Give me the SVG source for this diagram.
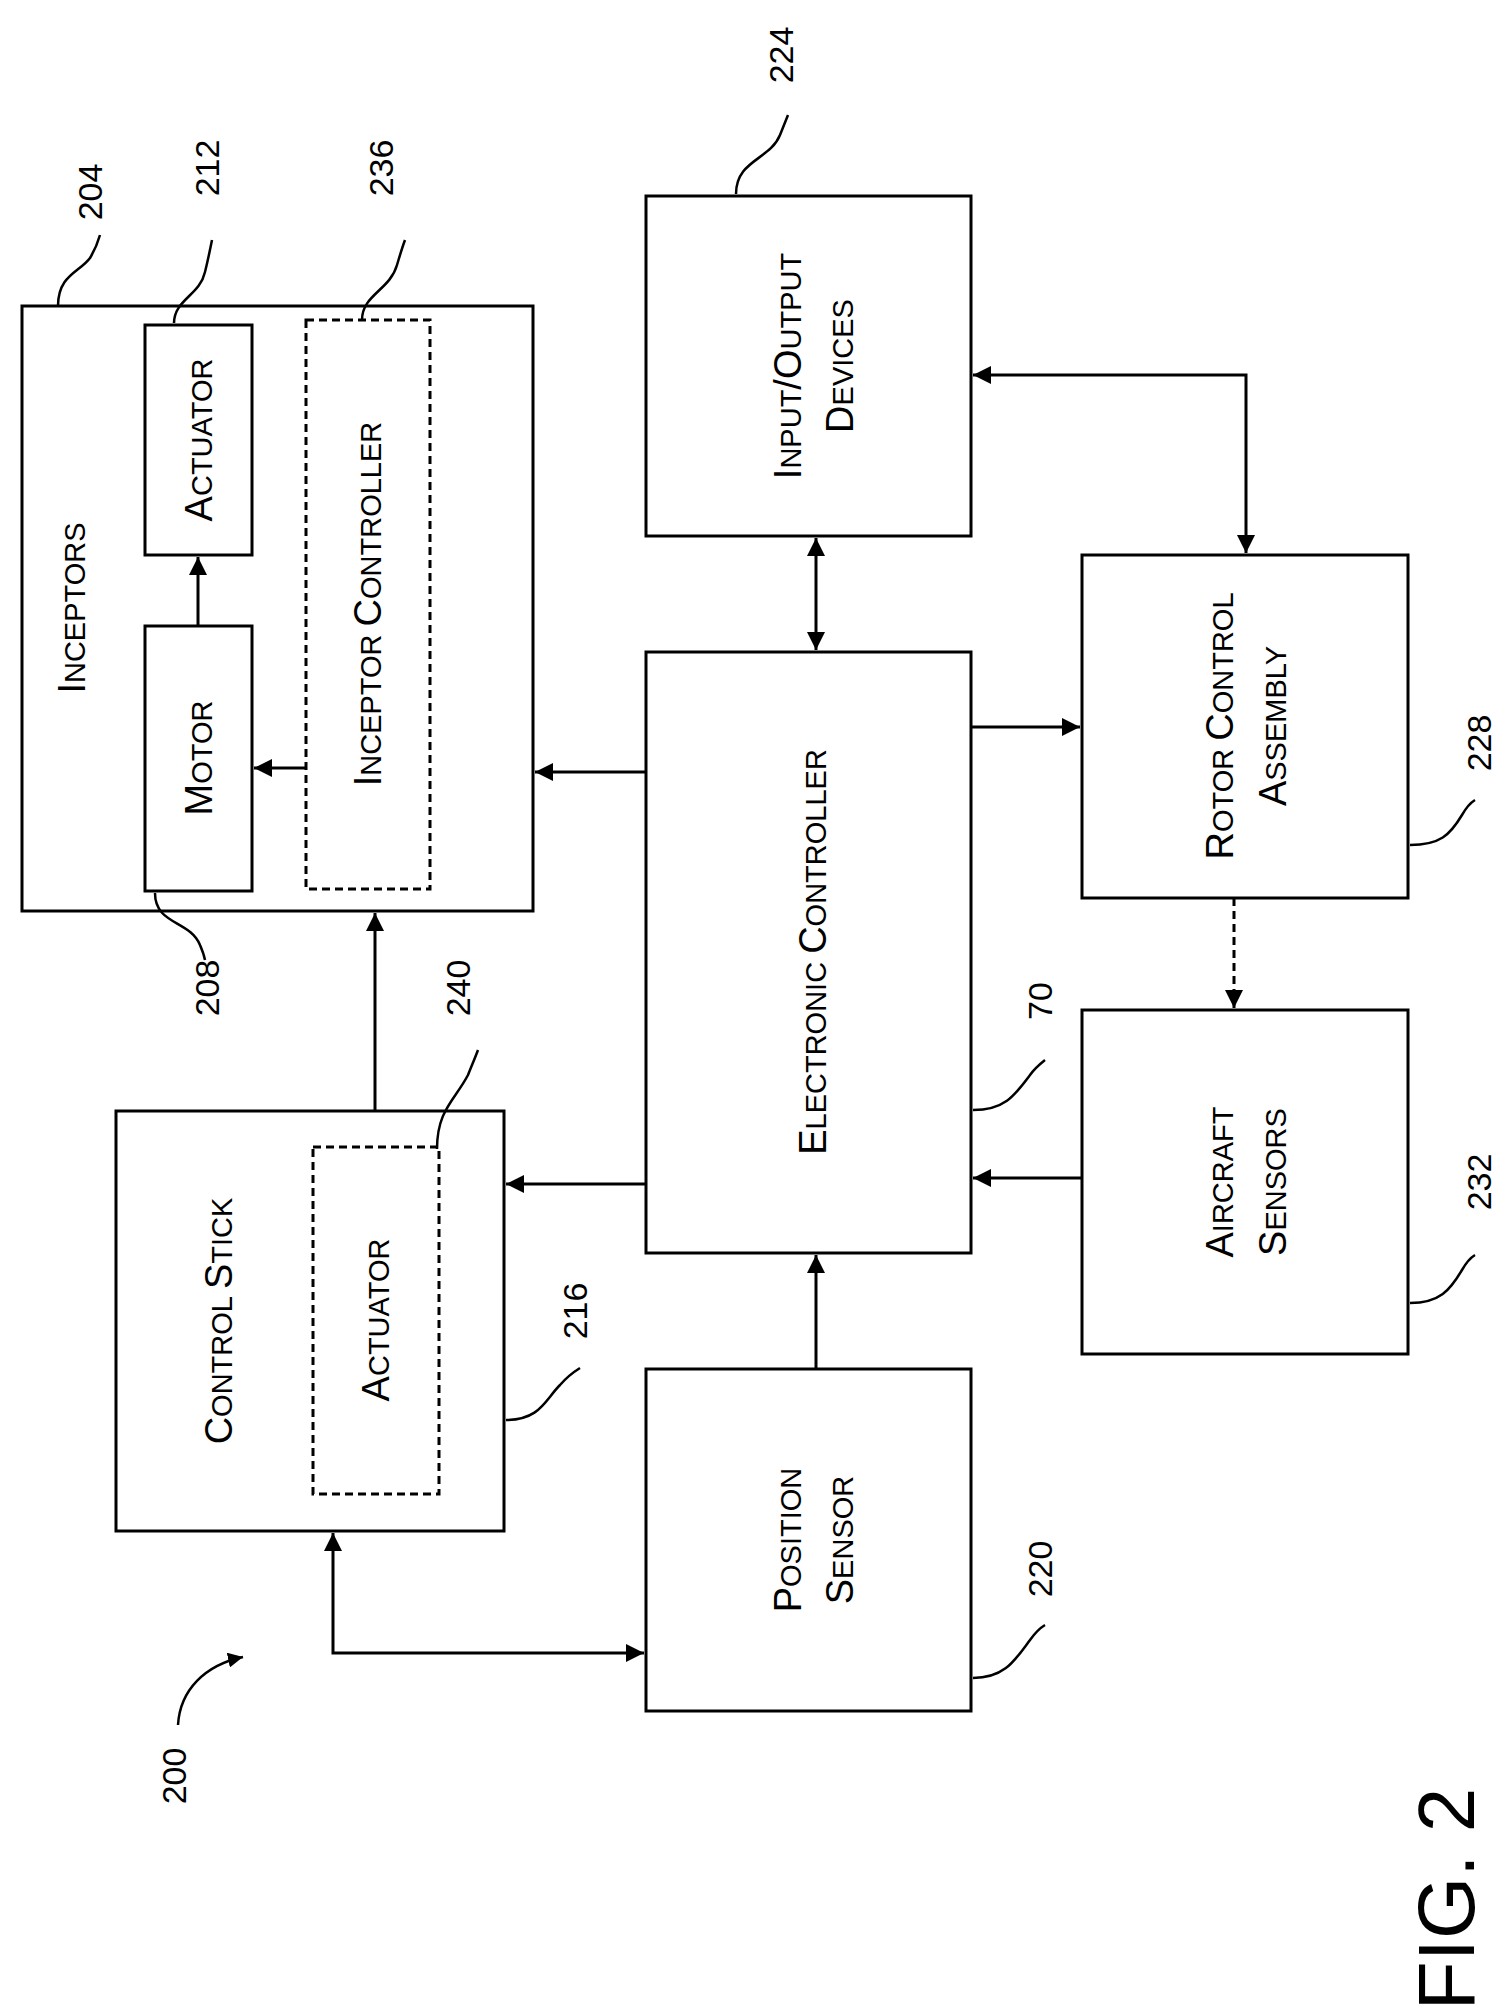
<svg xmlns="http://www.w3.org/2000/svg" width="1506" height="2012" viewBox="0 0 1506 2012">
<style>
.b{fill:none;stroke:#000;stroke-width:3}
.d{fill:none;stroke:#000;stroke-width:3;stroke-dasharray:8,5}
.c{fill:none;stroke:#000;stroke-width:3}
.l{fill:none;stroke:#000;stroke-width:2.5}
text{font-family:"Liberation Sans",Arial,sans-serif;fill:#000;text-anchor:middle}
.t{font-size:38px}
.t tspan.s{font-size:29px}
.n{font-size:34px}
</style>
<defs>
<marker id="a" viewBox="0 0 10 10" refX="10" refY="5" markerWidth="6" markerHeight="6" orient="auto-start-reverse"><path d="M0,0L10,5L0,10z"/></marker>
</defs>
<rect width="1506" height="2012" fill="#fff"/>
<g id="inceptors">
<rect class="b" x="22" y="306" width="511" height="605"/>
<text class="t" transform="translate(85,608) rotate(-90)">I<tspan class="s">NCEPTORS</tspan></text>
</g>
<g id="actuator212">
<rect class="b" x="145" y="325" width="107" height="230"/>
<text class="t" transform="translate(212,440) rotate(-90)">A<tspan class="s">CTUATOR</tspan></text>
</g>
<g id="motor">
<rect class="b" x="145" y="626" width="107" height="265"/>
<text class="t" transform="translate(212,758) rotate(-90)">M<tspan class="s">OTOR</tspan></text>
</g>
<g id="inceptorController">
<rect class="d" x="306" y="320" width="124" height="569"/>
<text class="t" transform="translate(381,604) rotate(-90)">I<tspan class="s">NCEPTOR </tspan>C<tspan class="s">ONTROLLER</tspan></text>
</g>
<g id="controlStick">
<rect class="b" x="116" y="1111" width="388" height="420"/>
<text class="t" transform="translate(232,1321) rotate(-90)">C<tspan class="s">ONTROL </tspan>S<tspan class="s">TICK</tspan></text>
</g>
<g id="actuator240">
<rect class="d" x="313" y="1147" width="126" height="347"/>
<text class="t" transform="translate(389,1320) rotate(-90)">A<tspan class="s">CTUATOR</tspan></text>
</g>
<g id="io">
<rect class="b" x="646" y="196" width="325" height="340"/>
<text class="t" transform="translate(801,366) rotate(-90)">I<tspan class="s">NPUT</tspan>/O<tspan class="s">UTPUT</tspan></text>
<text class="t" transform="translate(853,366) rotate(-90)">D<tspan class="s">EVICES</tspan></text>
</g>
<g id="ec">
<rect class="b" x="646" y="652" width="325" height="601"/>
<text class="t" transform="translate(826,952) rotate(-90)">E<tspan class="s">LECTRONIC </tspan>C<tspan class="s">ONTROLLER</tspan></text>
</g>
<g id="rotor">
<rect class="b" x="1082" y="555" width="326" height="343"/>
<text class="t" transform="translate(1233,726) rotate(-90)">R<tspan class="s">OTOR </tspan>C<tspan class="s">ONTROL</tspan></text>
<text class="t" transform="translate(1286,726) rotate(-90)">A<tspan class="s">SSEMBLY</tspan></text>
</g>
<g id="aircraft">
<rect class="b" x="1082" y="1010" width="326" height="344"/>
<text class="t" transform="translate(1233,1182) rotate(-90)">A<tspan class="s">IRCRAFT</tspan></text>
<text class="t" transform="translate(1286,1182) rotate(-90)">S<tspan class="s">ENSORS</tspan></text>
</g>
<g id="position">
<rect class="b" x="646" y="1369" width="325" height="342"/>
<text class="t" transform="translate(801,1540) rotate(-90)">P<tspan class="s">OSITION</tspan></text>
<text class="t" transform="translate(853,1540) rotate(-90)">S<tspan class="s">ENSOR</tspan></text>
</g>
<g id="connectors">
<line class="c" x1="646" y1="772" x2="535" y2="772" marker-end="url(#a)"/>
<line class="c" x1="646" y1="1184" x2="506" y2="1184" marker-end="url(#a)"/>
<line class="c" x1="971" y1="727" x2="1080" y2="727" marker-end="url(#a)"/>
<line class="c" x1="1082" y1="1178" x2="973" y2="1178" marker-end="url(#a)"/>
<line class="c" x1="816" y1="1369" x2="816" y2="1255" marker-end="url(#a)"/>
<line class="c" x1="816" y1="538" x2="816" y2="650" marker-start="url(#a)" marker-end="url(#a)"/>
<polyline class="c" points="973,375 1246,375 1246,553" marker-start="url(#a)" marker-end="url(#a)"/>
<line class="d" x1="1234" y1="898" x2="1234" y2="1008" marker-end="url(#a)"/>
<line class="c" x1="375" y1="1111" x2="375" y2="913" marker-end="url(#a)"/>
<polyline class="c" points="333,1533 333,1653 644,1653" marker-start="url(#a)" marker-end="url(#a)"/>
<line class="c" x1="306" y1="768" x2="254" y2="768" marker-end="url(#a)"/>
<line class="c" x1="198" y1="626" x2="198" y2="557" marker-end="url(#a)"/>
</g>
<g id="labels">
<text class="n" transform="translate(102,192) rotate(-90)">204</text>
<path class="l" d="M58,306 C58,275 80,272 90,258 C96,248 98,242 100,235"/>
<text class="n" transform="translate(219,168) rotate(-90)">212</text>
<path class="l" d="M174,323 C174,300 200,295 205,272 C208,260 210,250 212,240"/>
<text class="n" transform="translate(393,168) rotate(-90)">236</text>
<path class="l" d="M362,320 C362,295 390,290 397,265 C400,255 402,248 405,240"/>
<text class="n" transform="translate(793,55) rotate(-90)">224</text>
<path class="l" d="M736,194 C736,160 770,160 780,135 C784,125 786,120 788,115"/>
<text class="n" transform="translate(219,988) rotate(-90)">208</text>
<path class="l" d="M155,893 C155,925 190,920 200,945 C203,952 204,955 205,960"/>
<text class="n" transform="translate(470,988) rotate(-90)">240</text>
<path class="l" d="M437,1149 C437,1110 455,1100 468,1075 C472,1065 475,1058 478,1050"/>
<text class="n" transform="translate(587,1311) rotate(-90)">216</text>
<path class="l" d="M506,1420 C540,1420 545,1400 560,1385 C566,1378 572,1373 580,1368"/>
<text class="n" transform="translate(1052,1001) rotate(-90)">70</text>
<path class="l" d="M973,1110 C1005,1110 1015,1095 1030,1075 C1035,1068 1040,1064 1045,1060"/>
<text class="n" transform="translate(1491,743) rotate(-90)">228</text>
<path class="l" d="M1410,845 C1440,845 1450,835 1462,815 C1466,808 1470,803 1475,800"/>
<text class="n" transform="translate(1491,1182) rotate(-90)">232</text>
<path class="l" d="M1410,1303 C1440,1303 1450,1290 1462,1270 C1466,1263 1470,1258 1475,1255"/>
<text class="n" transform="translate(1052,1569) rotate(-90)">220</text>
<path class="l" d="M973,1678 C1005,1678 1015,1660 1030,1640 C1035,1633 1040,1628 1045,1625"/>
<text class="n" transform="translate(186,1776) rotate(-90)">200</text>
<path class="l" d="M178,1725 C180,1690 205,1665 243,1657" marker-end="url(#a)"/>
<text style="font-size:80px" transform="translate(1474,1899) rotate(-90)">FIG. 2</text>
</g>
</svg>
